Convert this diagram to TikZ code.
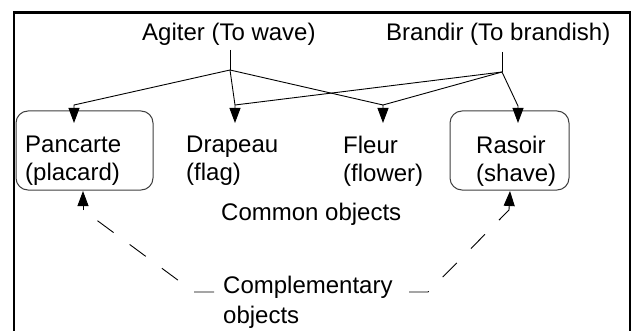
\documentclass[tikz,border=0pt]{standalone}
\usepackage{fontspec}
\setmainfont{Liberation Sans}
\usetikzlibrary{arrows.meta}
\begin{document}
\begin{tikzpicture}[x=1pt,y=-1pt,
  lbl/.style={inner sep=0pt, font=\fontsize{24}{28}\selectfont, align=left},
  objbox/.style={draw=black!75, line width=1pt, rounded corners=12pt, inner sep=0pt},
  conn/.style={line width=0.9pt, draw=black},
  arr/.style={conn, -{Triangle[length=15pt,width=11pt]}},
  dashconn/.style={conn, dash pattern=on 20pt off 20pt},
]
\useasboundingbox (0,0) rectangle (631,331);
\fill[white] (0,0) rectangle (631,331);
\draw[line width=2.3pt] (13.8,345) -- (13.8,12.5) -- (629.8,12.5) -- (629.8,345);

% texts and boxes
\node[lbl, anchor=base west] (agiter) at (142,41) {Agiter (To wave)};
\node[lbl, anchor=base west] (brandir) at (386,41) {Brandir (To brandish)};
\node[objbox, minimum width=137pt, minimum height=79pt] (pancarte) at (84.5,150.5) {};
\node[objbox, minimum width=119pt, minimum height=79pt] (rasoir) at (509.5,150.5) {};
\node[lbl, anchor=north west] (pancarteT) at (25,136) {Pancarte\\(placard)};
\node[lbl, anchor=north west] (drapeau) at (186,136) {Drapeau\\(flag)};
\node[lbl, anchor=north west] (fleur) at (343,136) {Fleur\\(flower)};
\node[lbl, anchor=north west] (rasoirT) at (476,136) {Rasoir\\(shave)};
\node[lbl, anchor=base west] (common) at (221,220) {Common objects};
\node[lbl, anchor=north west, font=\fontsize{24}{30}\selectfont] (comp) at (223,276) {Complementary\\objects};

% junctions and arrow ends
\coordinate (aTop) at (230,50);
\coordinate (aJ) at (230,70);
\coordinate (bTop) at (502,52);
\coordinate (bJ) at (502,72);
\coordinate (pIn) at (74,105);
\coordinate (pTip) at (74,123);
\coordinate (dIn) at (235,105);
\coordinate (dTip) at (235,123);
\coordinate (fIn) at (383,105);
\coordinate (fTip) at (383,123);
\coordinate (rIn) at (518,106);
\coordinate (rTip) at (518,123);

\draw[conn] (aTop) -- (aJ);
\draw[arr] (aJ) -- (pIn) -- (pTip);
\draw[arr] (aJ) -- (dIn) -- (dTip);
\draw[arr] (aJ) -- (fIn) -- (fTip);
\draw[conn] (bTop) -- (bJ);
\draw[conn] (bJ) -- (dIn);
\draw[conn] (bJ) -- (fIn);
\draw[arr] (bJ) -- (rIn) -- (rTip);

% complementary dashed connectors
\coordinate (cL) at (214,292);
\coordinate (cLc) at (194,292);
\coordinate (pB) at (83,210);
\coordinate (pBtip) at (83,191);
\coordinate (cR) at (409,292);
\coordinate (cRc) at (428,292);
\coordinate (rB) at (509,210);
\coordinate (rBtip) at (510,191);

\draw[dashconn] (cL) -- (cLc) -- (pB);
\draw[arr] (pB) -- (pBtip);
\draw[dashconn] (cR) -- (cRc) -- (rB);
\draw[arr] (rB) -- (rBtip);
\end{tikzpicture}
\end{document}
